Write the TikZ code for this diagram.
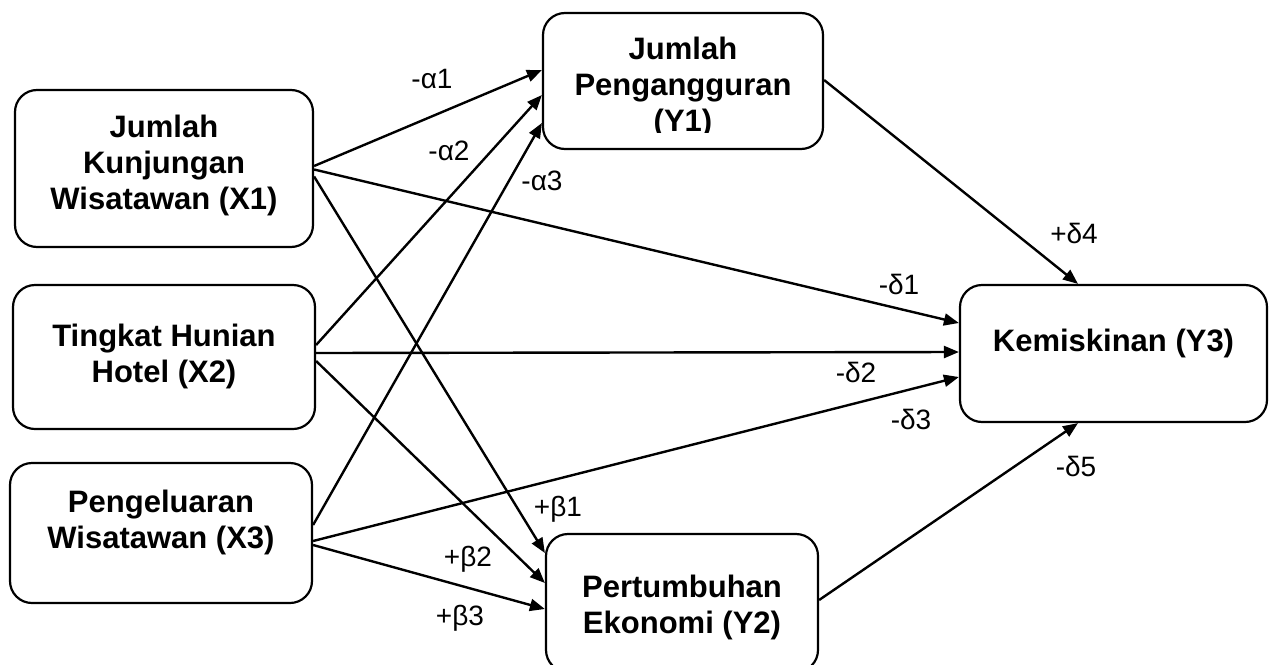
\documentclass[tikz,border=0pt]{standalone}
\usepackage{fontspec}
\setmainfont{Liberation Sans}
\usetikzlibrary{arrows.meta,calc}
\begin{document}
\begin{tikzpicture}[x=1pt,y=-1pt,
  box/.style={draw,line width=2.2pt,rounded corners=22pt,inner sep=0pt},
  boxtext/.style={font=\bfseries\fontsize{31}{36}\selectfont,align=center,inner sep=0pt},
  lbl/.style={font=\fontsize{28}{30}\selectfont,inner sep=0pt},
  arr/.style={line width=2.4pt,-{Triangle[length=15pt,width=12pt]}}]
\useasboundingbox (0,0) rectangle (1273,664);
% boxes
\node[box,minimum width=298pt,minimum height=157pt] (X1) at (164,168.5) {};
\node[box,minimum width=302pt,minimum height=144pt] (X2) at (164,357) {};
\node[box,minimum width=302pt,minimum height=140pt] (X3) at (161,533) {};
\node[box,minimum width=280pt,minimum height=136pt] (Y1) at (683,81) {};
\node[box,minimum width=272pt,minimum height=138pt] (Y2) at (682,603) {};
\node[box,minimum width=307pt,minimum height=137pt] (Y3) at (1113.5,353.5) {};
% texts
\node[boxtext] (X1t) at (164,165.1) {Jumlah\\Kunjungan\\Wisatawan (X1)};
\node[boxtext] (X2t) at (164,356.1) {Tingkat Hunian\\Hotel (X2)};
\node[boxtext] (X3t) at (161,522.1) {Pengeluaran\\Wisatawan (X3)};
\begin{scope}
\clip (543,13) rectangle (823,132);
\node[boxtext] (Y1t) at (683,87.1) {Jumlah\\Pengangguran\\(Y1)};
\end{scope}
\node[boxtext] (Y2t) at (682,607.1) {Pertumbuhan\\Ekonomi (Y2)};
\node[boxtext] (Y3t) at (1113.5,343.1) {Kemiskinan (Y3)};
% arrows
\draw[arr] ($(X1.east)+(0,-2.5)$) -- ($(Y1.west)+(0,-11)$);
\draw[arr] ($(X2.east)+(0,-12)$) -- ($(Y1.west)+(0,14)$);
\draw[arr] ($(X3.east)+(0,-8)$) -- ($(Y1.west)+(0,42)$);
\draw[arr] ($(X1.east)+(0,1)$) -- ($(Y3.west)+(0,-30.5)$);
\draw[arr] ($(X2.east)+(0,-4)$) -- ($(Y3.west)+(0,-1.5)$);
\draw[arr] ($(X3.east)+(0,8)$) -- ($(Y3.west)+(0,23.5)$);
\draw[arr] ($(X1.east)+(0,8)$) -- ($(Y2.west)+(0,-50)$);
\draw[arr] ($(X2.east)+(0,4)$) -- ($(Y2.west)+(0,-20)$);
\draw[arr] ($(X3.east)+(0,12)$) -- ($(Y2.west)+(0,6)$);
\draw[arr] ($(Y1.east)+(0,-1)$) -- ($(Y3.north)+(-35.5,0)$);
\draw[arr] ($(Y2.east)+(0,-3)$) -- ($(Y3.south)+(-35.5,0)$);
% labels
\node[lbl] (a1) at (432,79) {-α1};
\node[lbl] (a2) at (449,151) {-α2};
\node[lbl] (a3) at (542,181) {-α3};
\node[lbl] (d4) at (1074,233) {+δ4};
\node[lbl] (d1) at (899,284) {-δ1};
\node[lbl] (d2) at (856,372) {-δ2};
\node[lbl] (d3) at (911,419) {-δ3};
\node[lbl] (d5) at (1076,466) {-δ5};
\node[lbl] (b1) at (558,509) {+β1};
\node[lbl] (b2) at (468,559) {+β2};
\node[lbl] (b3) at (460,618) {+β3};
\end{tikzpicture}
\end{document}
